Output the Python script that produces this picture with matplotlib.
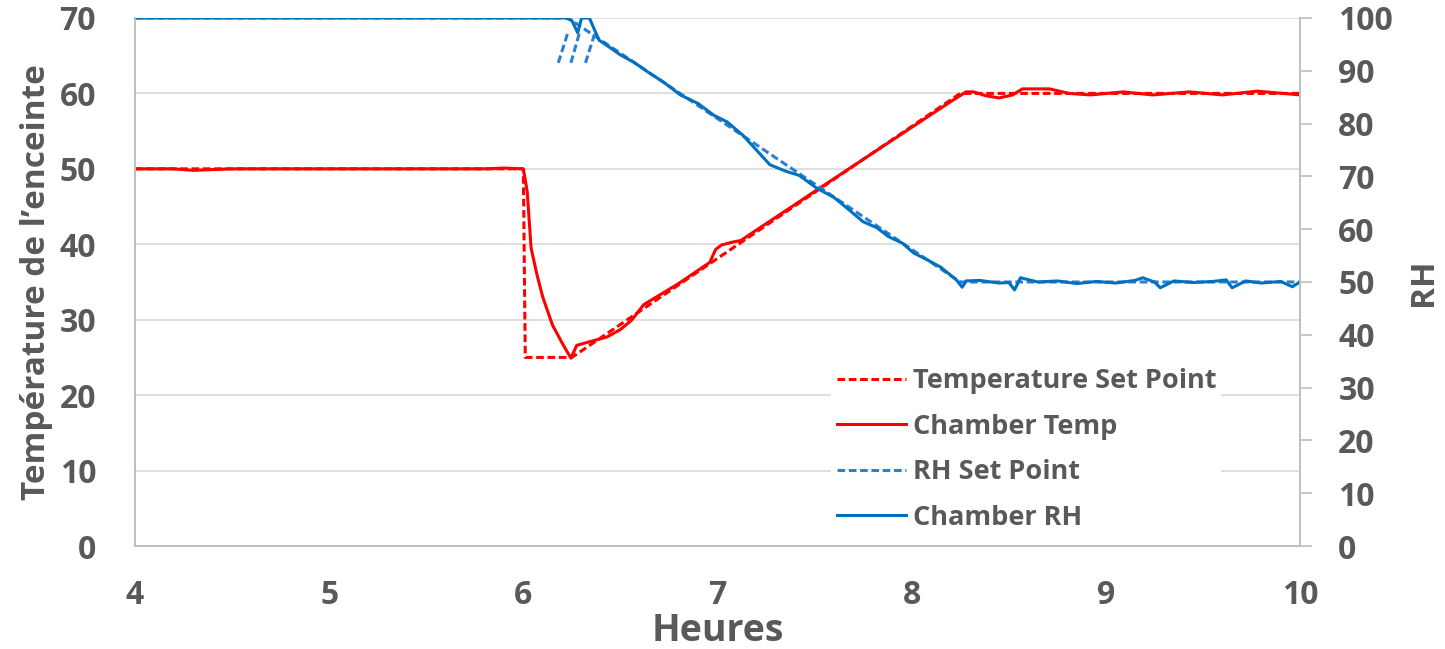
import numpy as np
import matplotlib
matplotlib.use("Agg")
import matplotlib.pyplot as plt

plt.rcParams['font.family'] = ['Open Sans', 'DejaVu Sans']
plt.rcParams['font.weight'] = 'bold'

nan = np.nan

# Temperature set point (left axis)
temp_sp_hours = [4.0, 6.0, 6.01, 6.25, 8.25, 10.0]
temp_sp_values = [50, 50, 25, 25, 60, 60]

# Chamber temperature (left axis)
temp_hours = [4.0, 4.2, 4.3, 4.5, 5.8, 5.9, 6.0, 6.02, 6.04, 6.07, 6.10, 6.15, 6.20,
              6.245, 6.275, 6.33, 6.43, 6.50, 6.56, 6.62, 6.80, 6.96, 6.99, 7.02,
              7.08, 7.12, 7.5, 7.8, 8.0, 8.2, 8.28, 8.32, 8.38, 8.45, 8.52, 8.57,
              8.71, 8.81, 8.92, 9.09, 9.24, 9.43, 9.60, 9.78, 10.0]
temp_values = [50, 50, 49.8, 50, 50, 50.1, 50, 47, 39.5, 36, 33, 29.3, 26.9,
               24.9, 26.6, 27.0, 27.7, 28.7, 30.0, 32.0, 34.8, 37.6, 39.3, 39.9,
               40.3, 40.5, 47.0, 52.1, 55.5, 58.9, 60.2, 60.2, 59.7, 59.4, 59.8, 60.6,
               60.6, 60.0, 59.8, 60.2, 59.8, 60.2, 59.8, 60.3, 59.8]

# RH set point (right axis), with the three stray dashes near 6.2 h
rh_sp_hours = [4.0, 6.23, 8.25, 10.0, 10.0, 6.18, 6.23, 6.23, 6.245, 6.29, 6.29, 6.32, 6.37]
rh_sp_values = [100, 100, 50, 50, nan, 91.5, 97.3, nan, 91.5, 97.3, nan, 91.5, 97.3]

# Chamber RH (right axis)
rh_hours = [4.0, 6.22, 6.25, 6.28, 6.30, 6.34, 6.39, 6.45, 6.50, 6.57, 6.64, 6.72,
            6.81, 6.90, 6.98, 7.05, 7.13, 7.20, 7.27, 7.35, 7.42, 7.51, 7.60, 7.66,
            7.75, 7.82, 7.88, 7.95, 8.01, 8.08, 8.15, 8.23, 8.26, 8.28,
            8.35, 8.45, 8.50, 8.53, 8.56, 8.65, 8.75, 8.85, 8.95, 9.05, 9.15, 9.19,
            9.25, 9.28, 9.35, 9.45, 9.55, 9.62, 9.65, 9.72, 9.80, 9.90, 9.96, 10.0]
rh_values = [100, 100, 99.5, 97.2, 100, 100, 95.8, 94.3, 93.0, 91.6, 89.8, 87.9,
             85.4, 83.8, 81.6, 80.3, 77.8, 75.0, 72.2, 71.0, 70.2, 67.8, 66.0, 64.2,
             61.4, 60.3, 58.6, 57.4, 55.5, 54.2, 52.8, 50.4, 49.0, 50.2,
             50.3, 49.8, 49.9, 48.5, 50.8, 50.0, 50.2, 49.7, 50.1, 49.8, 50.3, 50.8,
             50.0, 48.9, 50.2, 49.9, 50.1, 50.4, 48.9, 50.2, 49.8, 50.1, 49.1, 50.0]

txt = '#595959'
red = '#FF0000'
blue = '#0070C0'
blue_sp = '#2E7FD0'

fig = plt.figure(figsize=(14.45, 6.49), dpi=100)
ax = fig.add_axes([0.0934, 0.1587, 0.8063, 0.8136])
ax2 = ax.twinx()

l1, = ax.plot(temp_sp_hours, temp_sp_values, color=red, lw=2.2, dashes=(2.5, 1.2),
              label='Temperature Set Point')
l2, = ax.plot(temp_hours, temp_values, color=red, lw=2.2, label='Chamber Temp')
l3, = ax2.plot(rh_sp_hours, rh_sp_values, color=blue_sp, lw=2.2, dashes=(2.5, 1.2),
               label='RH Set Point')
l4, = ax2.plot(rh_hours, rh_values, color=blue, lw=2.2, label='Chamber RH')

ax.set_xlim(4, 10)
ax.set_ylim(0, 70)
ax2.set_ylim(0, 100)
ax.set_xticks(range(4, 11))
ax.set_yticks(range(0, 71, 10))
ax2.set_yticks(range(0, 101, 10))

ax.grid(axis='y', color='#D9D9D9', lw=1.2)
ax.set_axisbelow(True)

for a in (ax, ax2):
    a.spines['top'].set_visible(False)
    for s in ('left', 'right', 'bottom'):
        a.spines[s].set_color('#BFBFBF')
        a.spines[s].set_linewidth(1.2)

ax.tick_params(axis='y', length=0, labelsize=23, labelcolor=txt, pad=28)
ax.tick_params(axis='x', length=0, labelsize=23, labelcolor=txt, pad=24)
ax2.tick_params(axis='y', length=8.5, width=1.2, color='#BFBFBF', labelsize=23,
                labelcolor=txt, pad=19)

ax.set_xlabel('Heures', fontsize=27, fontweight='bold', color=txt, labelpad=0)
ax.set_ylabel('Température de l’enceinte', fontsize=24, fontweight='bold',
              color=txt, labelpad=5)
ax2.set_ylabel('RH', fontsize=24, fontweight='bold', color=txt, labelpad=10)

leg = ax2.legend(handles=[l1, l2, l3, l4], loc='upper left',
                 bbox_to_anchor=(0.586, 0.373), frameon=True, fontsize=19.5,
                 handlelength=2.55, handletextpad=0.25, labelspacing=0.72,
                 borderpad=0.2)
leg.get_frame().set_edgecolor('none')
leg.get_frame().set_facecolor('white')
leg.get_frame().set_alpha(1)
for t in leg.get_texts():
    t.set_color(txt)

fig.savefig('out.png', dpi=100)
